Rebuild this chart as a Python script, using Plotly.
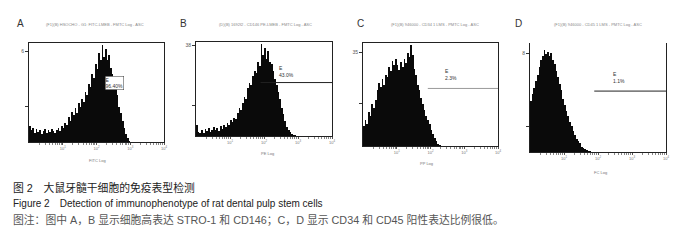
import math
import plotly.graph_objects as go

# ---------------- data ----------------
bin_width = 0.05  # decades per channel bin (log scale)

counts_A = [16, 12, 14, 9, 13, 10, 12, 8, 11, 13, 9, 12, 10, 13, 11, 9, 12, 14, 11, 16,
            14, 20, 18, 26, 22, 31, 28, 35, 30, 40, 36, 44, 41, 52, 48, 60, 57, 70, 66, 80,
            75, 92, 85, 100, 88, 96, 84, 90, 76, 70, 62, 55, 48, 36, 30, 22, 14, 8, 4, 1]
counts_B = [12, 4, 3, 6, 3, 8, 5, 9, 4, 7, 10, 6, 9, 5, 11, 8, 12, 10, 14, 12,
            17, 15, 20, 18, 25, 30, 28, 36, 42, 40, 52, 58, 55, 65, 70, 68, 80, 76, 100, 88,
            95, 84, 92, 80, 78, 70, 62, 55, 48, 40, 30, 24, 16, 10, 7, 4, 2, 1, 1]
counts_C = [20, 26, 22, 34, 30, 42, 38, 46, 55, 62, 58, 66, 60, 70, 68, 78, 74, 84, 80, 86,
            80, 75, 83, 78, 86, 82, 92, 88, 100, 90, 76, 70, 60, 55, 48, 42, 36, 30, 26, 22,
            16, 12, 8, 5, 2, 1]
counts_D = [48, 54, 60, 66, 72, 80, 86, 90, 95, 92, 94, 90, 93, 86, 82, 76, 70, 64, 58, 50,
            44, 38, 34, 28, 24, 20, 16, 12, 10, 8, 5, 4, 3, 2, 1, 1]

panel_letters = ["A", "B", "C", "D"]
panel_titles = ["(F1)(B) HSOCHO - G1: FITC-LMEB - FMTC Log - ASC",
                "(D)(B) 1692f2 - CD146 PE-LMEB - FMTC Log - ASC",
                "(F1)(B) 946000 - CD34 1 LMS - PMTC Log - ASC",
                "(F1)(B) 946000 - CD45 1 LMS - PMTC Log - ASC"]
axis_labels = ["FITC Log", "PE Log", "PP Log", "FC Log"]
y_top_labels = ["6", "38", "35", "8"]
y_tick_values = [[37, 93], [33, 98], [42, 93], [24, 92]]
gate_start = [None, 1.9, 1.92, 1.89]
gate_level = [None, 58, 57, 57]
gate_text = ["E\n96.40%", "E\n43.0%", "E\n2.3%", "E\n1.1%"]
gate_text_pos = [(2.25, 68), (2.42, 78), (2.4, 78), (2.4, 77)]
decade_ticks = [1, 2, 3, 4]
decade_labels = ["10<sup>1</sup>", "10<sup>2</sup>", "10<sup>3</sup>", "10<sup>4</sup>"]

caption_1 = "图 2　大鼠牙髓干细胞的免疫表型检测"
caption_2 = "Figure 2　Detection of immunophenotype of rat dental pulp stem cells"
caption_3 = "图注：图中 A，B 显示细胞高表达 STRO-1 和 CD146；C，D 显示 CD34 和 CD45 阳性表达比例很低。"

# ---------------- layout geometry (pixels) ----------------
W, H = 683, 242
boxes = [(29, 164, 43, 142), (196, 332, 42, 136), (363, 498, 43, 146), (530, 666, 43, 152)]
letter_pos = [(20, 23), (183, 23), (360, 23), (518, 23)]
title_pos = [(95, 25), (265, 25), (435, 25), (598, 25)]
xlabel_pos = [(97, 160), (267, 153), (426, 163), (600, 172)]


def px(x):
    return x / W


def py(y):
    return 1 - y / H


fig = go.Figure()
all_counts = [counts_A, counts_B, counts_C, counts_D]
minor_vals = [d + math.log10(k) for d in range(4) for k in range(2, 10)]

layout = dict(width=W, height=H, margin=dict(l=0, r=0, t=0, b=0, autoexpand=False),
              paper_bgcolor="white", plot_bgcolor="white", showlegend=False,
              bargap=0, font=dict(family="Liberation Sans", color="#444"))
annotations = []
shapes = []
for i, counts in enumerate(all_counts):
    n = i + 1
    xa = "x" if n == 1 else f"x{n}"
    ya = "y" if n == 1 else f"y{n}"
    xs = [(j + 0.5) * bin_width for j in range(len(counts))]
    fig.add_trace(go.Bar(x=xs, y=counts, width=bin_width, xaxis=xa, yaxis=ya,
                         marker=dict(color="#0a0a0a", line=dict(width=0))))
    l, r, t, b = boxes[i]
    layout["xaxis" if n == 1 else f"xaxis{n}"] = dict(
        domain=[px(l), px(r)], anchor=ya, range=[0, 4], showgrid=False, zeroline=False,
        automargin=False,
        showline=True, linecolor="#222", linewidth=1, mirror=(i != 3),
        tickmode="array", tickvals=decade_ticks, ticktext=decade_labels,
        ticks="outside", ticklen=2, tickcolor="#555",
        tickfont=dict(size=4, color="#777"),
        minor=dict(tickmode="array", tickvals=minor_vals, ticks="outside", ticklen=1.5, tickcolor="#888"))
    layout["yaxis" if n == 1 else f"yaxis{n}"] = dict(
        domain=[py(b), py(t)], anchor=xa, range=[0, 102], showgrid=False, zeroline=False,
        automargin=False,
        showline=True, linecolor="#222", linewidth=1, mirror=True,
        tickmode="array", tickvals=y_tick_values[i], ticktext=["", y_top_labels[i]],
        ticks="outside", ticklen=3, tickcolor="#333",
        tickfont=dict(size=5, color="#555"))
    if gate_start[i] is not None:
        shapes.append(dict(type="line", xref=xa, yref=ya, x0=gate_start[i], x1=4,
                           y0=gate_level[i], y1=gate_level[i],
                           line=dict(color="#999" if i == 2 else "#222", width=1)))
    gx, gy = gate_text_pos[i]
    ann = dict(xref=xa, yref=ya, x=gx, y=gy, text=gate_text[i].replace("\n", "<br>"),
               showarrow=False, xanchor="left", yanchor="top", align="left",
               font=dict(size=5, color="#333"), borderpad=0)
    if i == 0:
        ann.update(bgcolor="white", bordercolor="#333", borderwidth=0.5)
    annotations.append(ann)
    lx, ly = letter_pos[i]
    annotations.append(dict(xref="paper", yref="paper", x=px(lx), y=py(ly), text=panel_letters[i],
                            xanchor="center", yanchor="middle",
                            showarrow=False, font=dict(size=10, color="#333")))
    tx, ty = title_pos[i]
    annotations.append(dict(xref="paper", yref="paper", x=px(tx), y=py(ty), text=panel_titles[i],
                            xanchor="center", yanchor="middle",
                            showarrow=False, font=dict(size=4, color="#888")))
    ax, ay = xlabel_pos[i]
    annotations.append(dict(xref="paper", yref="paper", x=px(ax), y=py(ay), text=axis_labels[i],
                            xanchor="center", yanchor="middle",
                            showarrow=False, font=dict(size=4, color="#777")))

cap_font = "Liberation Sans, Noto Sans CJK SC"
annotations.append(dict(xref="paper", yref="paper", x=px(11), y=py(187), text=caption_1,
                        xanchor="left", yanchor="middle", showarrow=False,
                        font=dict(size=10.8, color="#222", family=cap_font)))
annotations.append(dict(xref="paper", yref="paper", x=px(11), y=py(203), text=caption_2,
                        xanchor="left", yanchor="middle", showarrow=False,
                        font=dict(size=10, color="#222", family=cap_font)))
annotations.append(dict(xref="paper", yref="paper", x=px(11), y=py(219), text=caption_3,
                        xanchor="left", yanchor="middle", showarrow=False,
                        font=dict(size=10.8, color="#555", family=cap_font)))

layout["annotations"] = annotations
layout["shapes"] = shapes
fig.update_layout(**layout)
fig.write_html("out.html", config={"displayModeBar": False, "staticPlot": True},
               post_script="document.body.style.margin='0px';")
